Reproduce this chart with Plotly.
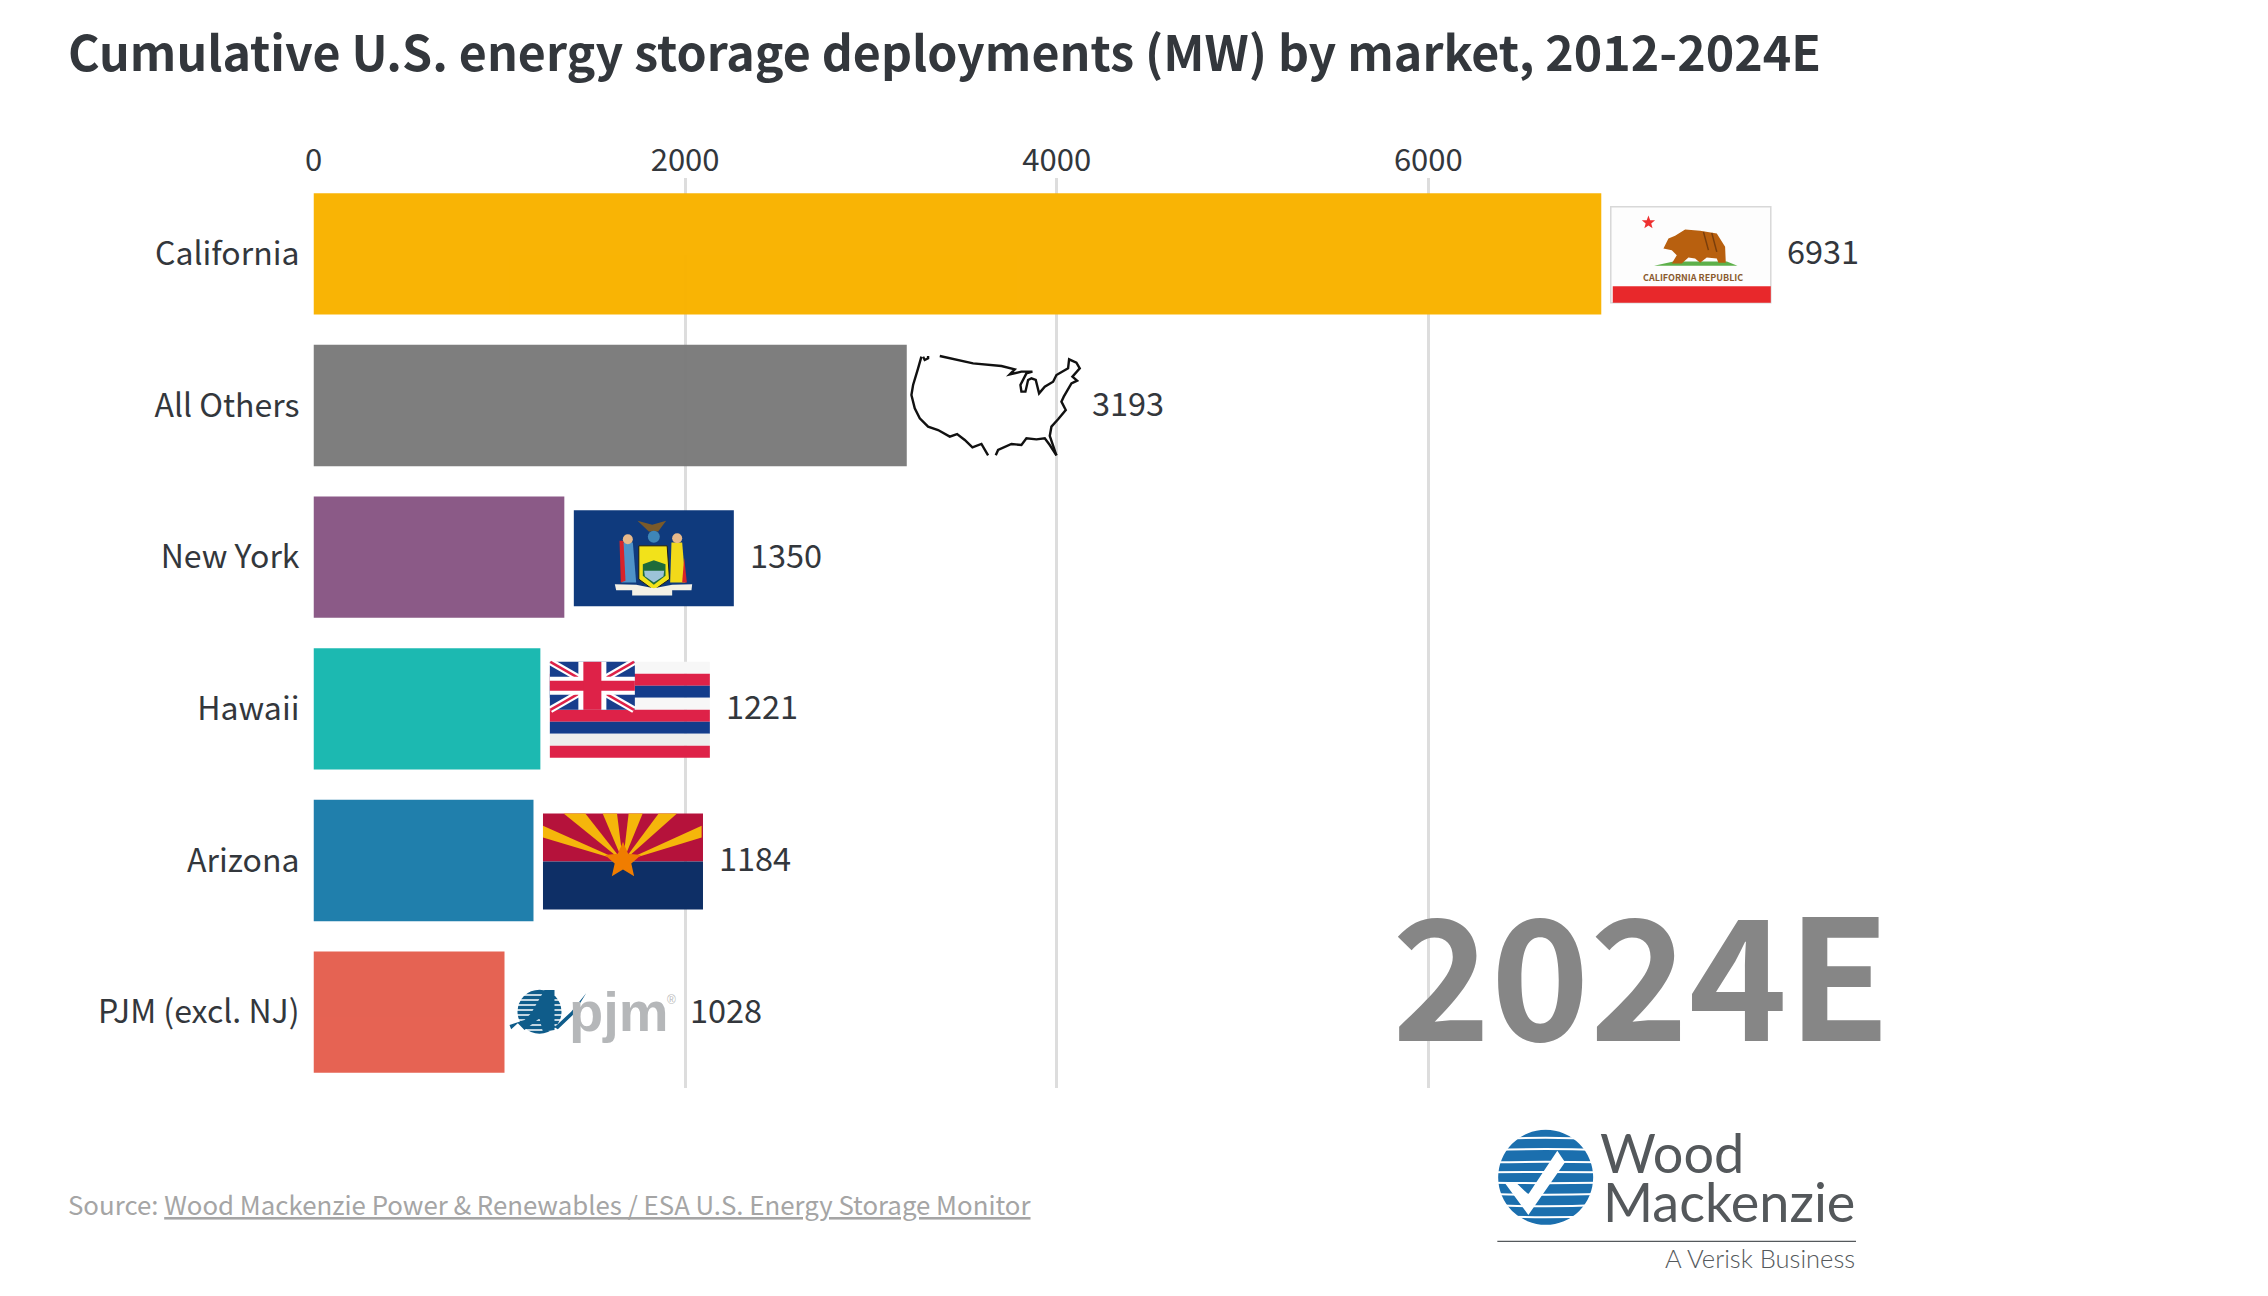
import math
import plotly.graph_objects as go

markets = ["California", "All Others", "New York", "Hawaii", "Arizona", "PJM (excl. NJ)"]
values = [6931, 3193, 1350, 1221, 1184, 1028]
bar_colors = ["#F9B300", "#7C7C7C", "#895785", "#18B8B0", "#1C7DAB", "#E56050"]
x_ticks = [0, 2000, 4000, 6000]
title_text = "Cumulative U.S. energy storage deployments (MW) by market, 2012-2024E"
year_text = "2024E"

W, H = 2268, 1296
AX_L, AX_R, AX_T, AX_B = 313.5, 2000, 178, 1088
PX_PER_UNIT = 0.1858
X_MAX = (AX_R - AX_L) / PX_PER_UNIT
ROW = (AX_B - AX_T) / 6
FONT = "Noto Sans CJK SC"
INK = "#33373c"

shapes, notes = [], []


def fx(x):
    return x / W


def fy(y):
    return 1 - y / H


def poly(pts, fill=None, line=None, lw=0, close=True, layer="above"):
    d = "M" + " L".join(f"{fx(x):.5f} {fy(y):.5f}" for x, y in pts) + (" Z" if close else "")
    shapes.append(dict(type="path", path=d, xref="paper", yref="paper", layer=layer,
                       fillcolor=fill if fill else "rgba(0,0,0,0)",
                       line=dict(color=line if line else "rgba(0,0,0,0)", width=lw)))


def rect(x0, y0, x1, y1, fill, line=None, lw=0):
    poly([(x0, y0), (x1, y0), (x1, y1), (x0, y1)], fill, line, lw)


def circle(cx, cy, r, fill, line=None, lw=0):
    shapes.append(dict(type="circle", xref="paper", yref="paper",
                       x0=fx(cx - r), x1=fx(cx + r), y0=fy(cy + r), y1=fy(cy - r),
                       fillcolor=fill, line=dict(color=line if line else "rgba(0,0,0,0)", width=lw)))


def star(cx, cy, r, fill, ratio=0.42):
    pts = []
    for i in range(10):
        a = -math.pi / 2 + i * math.pi / 5
        rr = r if i % 2 == 0 else r * ratio
        pts.append((cx + rr * math.cos(a), cy + rr * math.sin(a)))
    poly(pts, fill)


def note(x, y, text, size, color=INK, anchor="left", weight=None, family=FONT, xref=None, xshift=0, yref=None, yshift=0):
    f = dict(family=family, size=size, color=color)
    if weight:
        f["weight"] = weight
    notes.append(dict(x=x if xref else fx(x), y=y if yref else fy(y), xref=xref or "paper", yref=yref or "paper",
                      text=text, showarrow=False, xanchor=anchor, yanchor="middle",
                      xshift=xshift, yshift=yshift, font=f, borderpad=0, borderwidth=0))


def mk(ox, oy, zx0, zy0):
    return lambda zx, zy: (ox + (zx - zx0) / 3, oy + (zy - zy0) / 3)


def bar_end(v):
    return AX_L + v * PX_PER_UNIT


def row_y(i):
    return AX_T + ROW * (i + 0.5)


FLAG_W, FLAG_H = 160, 96
GAP = 9.5

# California flag
fx0, fy0 = bar_end(values[0]) + GAP, row_y(0) + 1 - FLAG_H / 2
T = mk(fx0, fy0, 152, 110)
rect(fx0, fy0, fx0 + FLAG_W, fy0 + FLAG_H, "#FDFDFD", "#D8D8D8", 1.5)
rect(*T(158, 348), *T(632, 398), "#E8282B")
star(*T(265, 157), 7, "#EE3030")
poly([T(282, 287), T(340, 274), T(500, 274), T(532, 287)], "#5DB04A")
poly([T(310, 235), T(325, 205), T(345, 197), T(375, 178), T(420, 182), T(470, 190), T(495, 230),
      T(497, 278), T(475, 278), T(470, 265), T(440, 262), T(420, 278), T(405, 265), T(385, 262),
      T(365, 280), T(335, 280), T(350, 255), T(335, 240)], "#B8600F")
for a, b in [((430, 185), (445, 240)), ((455, 188), (470, 245))]:
    poly([T(*a), T(*b)], None, "#7A3E0C", 1.5, close=False)
note(T(398, 322)[0], T(398, 322)[1], "CALIFORNIA REPUBLIC", 9, "#8A5A2E", "center", 700)

# U.S. outline
T = mk(880, 330, 0, 0)
dx = bar_end(values[1]) - 907
us_west = [(125, 80), (115, 115), (100, 165), (95, 195), (105, 235), (120, 265), (145, 290), (175, 300),
           (210, 320), (232, 312), (255, 330), (278, 352), (305, 342), (325, 376)]
us_gulf = [(348, 376), (355, 360), (395, 342), (425, 345), (440, 325), (470, 328), (495, 325), (510, 345),
           (530, 376)]
us_east = [(530, 376), (510, 318), (515, 290), (535, 268), (558, 240), (545, 215), (552, 200), (575, 160),
           (592, 152), (578, 140), (600, 115), (590, 98), (568, 88), (565, 115), (530, 135), (520, 155),
           (495, 170), (478, 190), (468, 150), (455, 145), (445, 150), (437, 185), (425, 185), (422, 165),
           (440, 130), (458, 125), (425, 125), (390, 133), (405, 118), (365, 108), (280, 100), (180, 78)]
us_nick = [(130, 80), (135, 90), (145, 85), (145, 78)]
for seg in (us_west, us_gulf, us_east, us_nick):
    poly([(T(*p)[0] + dx, T(*p)[1]) for p in seg], None, "#111111", 2.4, close=False)

# New York flag
fx0, fy0 = bar_end(values[2]) + GAP, row_y(2) + 1 - FLAG_H / 2
T = mk(fx0, fy0, 45, 28)
rect(fx0, fy0, fx0 + FLAG_W, fy0 + FLAG_H, "#0F3A7D")
poly([T(236, 60), T(280, 72), T(322, 60), T(298, 92), T(270, 92)], "#7A5A2A")
circle(*T(285, 108), 6, "#3E86B8")
poly([T(192, 125), T(222, 125), T(232, 245), T(188, 245)], "#4F93C8")
poly([T(182, 120), T(194, 120), T(200, 240), T(186, 245)], "#D8232A")
circle(*T(207, 115), 5, "#E8B98A")
poly([T(338, 125), T(370, 125), T(380, 245), T(334, 245)], "#F2D91A")
poly([T(376, 170), T(384, 245), T(370, 245)], "#D8232A")
circle(*T(355, 112), 5, "#E8B98A")
poly([T(240, 135), T(325, 135), T(332, 235), T(285, 268), T(240, 235)], "#F2E21A", "#1A1A1A", 1)
poly([T(252, 190), T(285, 178), T(320, 190), T(320, 225), T(285, 252), T(252, 225)], "#1E6B3A")
poly([T(256, 210), T(316, 210), T(314, 226), T(285, 245), T(258, 226)], "#9CC3D8")
poly([T(168, 250), T(232, 252), T(285, 262), T(340, 252), T(400, 250), T(398, 268), T(340, 268), T(340, 284),
      T(220, 284), T(220, 268), T(172, 268)], "#F4F1E6")

# Hawaii flag
fx0, fy0 = bar_end(values[3]) + GAP, row_y(3) + 1 - FLAG_H / 2
stripes = ["#F7F7F7", "#DE2248", "#133C8B", "#F7F7F7", "#DE2248", "#133C8B", "#EDEDED", "#DE2248"]
for i, c in enumerate(stripes):
    rect(fx0, fy0 + i * FLAG_H / 8, fx0 + FLAG_W, fy0 + (i + 1) * FLAG_H / 8, c)
cw, ch = 85, 48
cx0, cy0 = fx0, fy0
rect(cx0, cy0, cx0 + cw, cy0 + ch, "#173E8C")
for (a, b), (c, d) in [((0, 0), (cw, ch)), ((0, ch), (cw, 0))]:
    poly([(cx0 + a * .99 + .5, cy0 + b), (cx0 + c * .99, cy0 + d)], None, "#FFFFFF", 7, close=False)
    poly([(cx0 + a * .99 + .5, cy0 + b), (cx0 + c * .99, cy0 + d)], None, "#DE2248", 2.5, close=False)
rect(cx0, cy0 + ch / 2 - 9, cx0 + cw, cy0 + ch / 2 + 9, "#FFFFFF")
rect(cx0 + cw / 2 - 14, cy0, cx0 + cw / 2 + 14, cy0 + ch, "#FFFFFF")
rect(cx0, cy0 + ch / 2 - 5, cx0 + cw, cy0 + ch / 2 + 5, "#DE2248")
rect(cx0 + cw / 2 - 9, cy0, cx0 + cw / 2 + 9, cy0 + ch, "#DE2248")

# Arizona flag
fx0, fy0 = bar_end(values[4]) + GAP, row_y(4) + 1 - FLAG_H / 2
T = mk(fx0, fy0, 73, 518)
rect(fx0, fy0, fx0 + FLAG_W, fy0 + FLAG_H / 2, "#B5123B")
rect(fx0, fy0 + FLAG_H / 2, fx0 + FLAG_W, fy0 + FLAG_H, "#0E2F66")
for a, b in [((73, 555), (73, 590)), ((135, 518), (200, 518)), ((252, 518), (295, 518)),
             ((330, 518), (372, 518)), ((420, 518), (475, 518)), ((549, 555), (549, 590))]:
    poly([T(313, 662), T(*a), T(*b)], "#F5B60B")
star(*T(313, 660), 19, "#F07D00", 0.46)

# PJM logo
T = mk(500, 940, 0, 0)
dx = bar_end(values[5]) - 505
circle(T(120, 215)[0] + dx, T(120, 215)[1], 22, "#0F5C8A")
for zy in (165, 180, 195, 210, 225, 240, 255, 270):
    a, b = T(40, zy), T(200, zy)
    poly([(a[0] + dx, a[1]), (b[0] + dx, b[1])], None, "#FFFFFF", 1.5, close=False)
poly([(p[0] + dx, p[1]) for p in [T(30, 255), T(75, 240), T(95, 220), T(135, 150), T(165, 150), T(165, 270),
                                   T(130, 275), T(120, 235), T(75, 270), T(55, 250), T(35, 268)]], "#0F5C8A")
poly([(p[0] + dx, p[1]) for p in [T(165, 262), T(215, 215), T(260, 160), T(220, 225), T(175, 268)]], "#0F5C8A")
note(T(208, 213)[0] + dx, T(208, 213)[1], "pjm", 56, "#B5B7B9", "left", 700, "Liberation Sans")
note(T(503, 180)[0] + dx, T(503, 180)[1], "®", 12, "#BBBBBB", "left", None, "Liberation Sans")

# Wood Mackenzie logo
T = mk(1460, 1100, 0, 0)
LOGO = "#1B6FAE"
circle(*T(257, 232), 47.5, LOGO)
for zy, bend in [(118, -10), (150, -6), (187, -3), (217, -2), (248, 3), (282, 5), (315, 8), (347, 10)]:
    half = 160
    a, b = T(257 - half, zy), T(257 + half, zy)
    c = T(257, zy + bend)
    d = (f"M{fx(a[0]):.5f} {fy(a[1]):.5f} Q{fx(c[0]):.5f} {fy(c[1]):.5f} {fx(b[0]):.5f} {fy(b[1]):.5f}")
    shapes.append(dict(type="path", path=d, xref="paper", yref="paper",
                       line=dict(color="#FFFFFF", width=2), fillcolor="rgba(0,0,0,0)"))
rect(*T(80, 60), *T(420, 88), "#FFFFFF")
rect(*T(80, 376), *T(420, 400), "#FFFFFF")
rect(*T(80, 60), *T(112, 400), "#FFFFFF")
rect(*T(402, 60), *T(425, 400), "#FFFFFF")
poly([T(135, 250), T(205, 345), T(315, 187), T(292, 152), T(205, 283), T(170, 250)], "#FFFFFF")
rect(*T(112, 422), *T(1188, 426), "#55595C")
note(1600, 1152, "Wood", 54, "#54585B", "left", 400, "Lato")
note(1603, 1201, "Mackenzie", 54, "#54585B", "left", 400, "Lato")
note(1855, 1258, "A Verisk Business", 25.5, "#55595C", "right", 300, "Lato")

# Titles and annotations
note(68, 50, title_text, 48.3, "#33373c", "left", 700)
note(1392, 968, year_text, 167.5, "#868686", "left", 700)
note(68, 1203, "Source: <u>Wood Mackenzie Power &amp; Renewables / ESA U.S. Energy Storage Monitor</u>",
     25.8, "#A5A5A5", "left")
for m, v in zip(markets, values):
    note(v, m, str(v), 32.5, INK, "left", xref="x", yref="y", xshift=185.5, yshift=4)

fig = go.Figure(go.Bar(
    x=values, y=markets, orientation="h", width=0.8,
    marker=dict(color=bar_colors, line=dict(width=0)), opacity=0.98, hoverinfo="skip",
))
fig.update_layout(
    width=W, height=H, margin=dict(l=0, r=0, t=0, b=0, autoexpand=False),
    paper_bgcolor="white", plot_bgcolor="white", showlegend=False,
    font=dict(family=FONT, color=INK, size=32),
    shapes=shapes, annotations=notes,
    xaxis=dict(domain=[AX_L / W, AX_R / W], range=[0, X_MAX], side="top", anchor="y",
               tickvals=x_ticks, ticktext=[str(t) for t in x_ticks],
               showgrid=True, gridcolor="#DDDDDD", gridwidth=3, zeroline=False, showline=False, ticks="",
               tickfont=dict(family=FONT, size=31, color=INK)),
    yaxis=dict(domain=[1 - AX_B / H, 1 - AX_T / H], range=[5.5, -0.5], type="category",
               categoryorder="array", categoryarray=markets, showgrid=False, zeroline=False,
               showline=False, ticks="", ticklabelstandoff=13,
               tickfont=dict(family=FONT, size=32, color=INK)),
)
fig.write_html("out.html", config=dict(displayModeBar=False),
               post_script="document.body.style.margin='0';")
